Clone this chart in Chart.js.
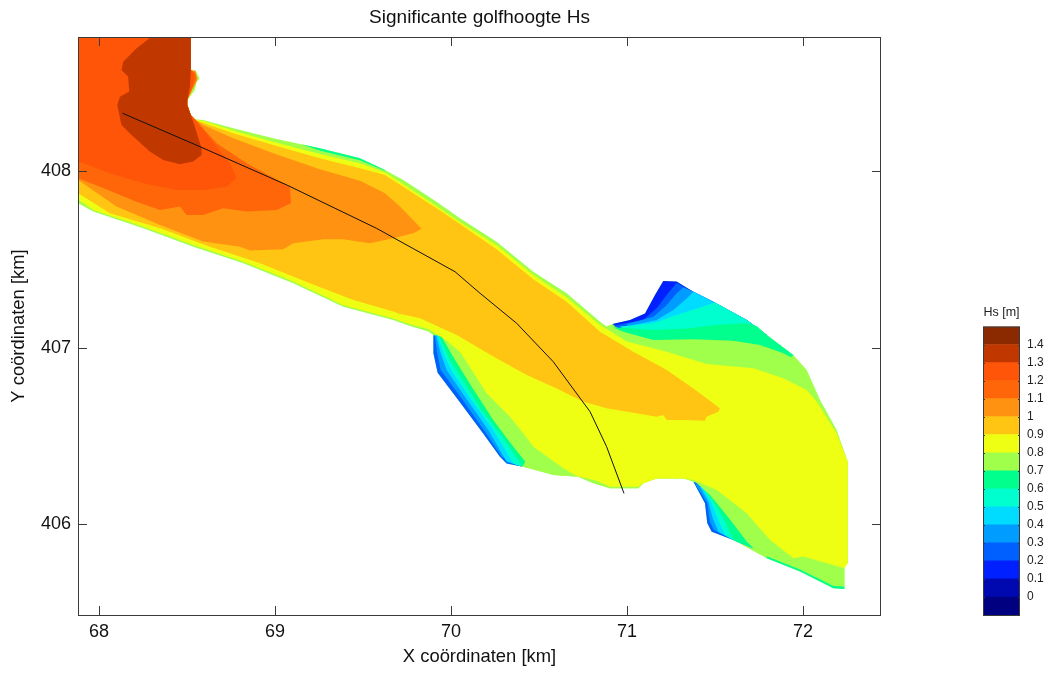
<!DOCTYPE html>
<html>
<head>
<meta charset="utf-8">
<title>Significante golfhoogte Hs</title>
<script src="https://cdn.jsdelivr.net/npm/chart.js@4"></script>
<style>
  html, body { margin: 0; padding: 0; background: #fff; overflow: hidden; }
  #hoofd { position: absolute; left: 0; top: 0; }
  #schaal { position: absolute; left: 960px; top: 295px; }
</style>
</head>
<body>
<canvas id="hoofd" width="1053" height="673"></canvas>
<canvas id="schaal" width="93" height="335"></canvas>
<script>
/* =====================================
   DATA (km)
===================================== */
const xTicks = [68, 69, 70, 71, 72];
const yTicks = [406, 407, 408];
const colorTicks = [0, 0.1, 0.2, 0.3, 0.4, 0.5, 0.6, 0.7, 0.8, 0.9, 1, 1.1, 1.2, 1.3, 1.4];
const colorLower = [-0.1, 0, 0.1, 0.2, 0.3, 0.4, 0.5, 0.6, 0.7, 0.8, 0.9, 1, 1.1, 1.2, 1.3, 1.4];
const colorUpper = [0, 0.1, 0.2, 0.3, 0.4, 0.5, 0.6, 0.7, 0.8, 0.9, 1, 1.1, 1.2, 1.3, 1.4, 1.5];
const palette = ["#000080", "#0008B0", "#0020FF", "#0060FF", "#009CFF", "#00DCFF", "#00FFCE", "#00FF8C",
                 "#A0FF4A", "#EEFF14", "#FFC512", "#FF9210", "#FF660A", "#FF5508", "#C03800", "#8B2A00"];

const domainOutline = [[67.8,408.85],[68.522,408.85],[68.522,408.575],[68.548,408.572],[68.572,408.528],[68.555,408.509],[68.545,408.462],[68.502,408.405],[68.502,408.377],[68.522,408.32],[68.545,408.296],[68.592,408.292],[68.763,408.245],[68.99,408.188],[69.255,408.132],[69.483,408.075],[69.625,408.009],[69.729,407.952],[69.918,407.829],[70.051,407.735],[70.259,407.602],[70.468,407.432],[70.657,407.31],[70.847,407.149],[70.884,407.121],[70.917,407.136],[71.017,407.159],[71.102,407.196],[71.159,407.3],[71.206,407.379],[71.282,407.376],[71.377,407.319],[71.49,407.262],[71.68,407.159],[71.794,407.074],[71.945,406.96],[72.021,406.875],[72.097,406.705],[72.191,406.535],[72.254,406.356],[72.254,405.78],[72.235,405.78],[72.235,405.634],[72.173,405.638],[71.983,405.733],[71.794,405.808],[71.604,405.912],[71.481,405.959],[71.456,406.007],[71.443,406.12],[71.377,406.242],[71.32,406.261],[71.168,406.261],[71.093,406.233],[71.064,406.205],[70.903,406.205],[70.809,406.233],[70.723,406.271],[70.581,406.28],[70.401,406.328],[70.316,406.346],[70.278,406.384],[70.183,406.516],[70.041,406.705],[69.924,406.86],[69.9,406.97],[69.9,407.074],[69.871,407.093],[69.767,407.125],[69.672,407.159],[69.388,407.234],[69.104,407.367],[68.82,407.48],[68.536,407.574],[68.252,407.678],[67.968,407.773],[67.882,407.82],[67.8,407.84]];

// dunne groene randen langs de geul
const topFringe = [[69.15,408.155],[69.255,408.132],[69.483,408.075],[69.625,408.009],[69.625,408.003],[69.483,408.062],[69.255,408.118]];
const seFringe = [[71.794,405.808],[71.983,405.733],[72.173,405.638],[72.235,405.634],[72.235,405.648],[72.173,405.652],[71.983,405.745],[71.794,405.82]];

// noordoost lob, from low to high
const neLevel2 = [[70.917,407.136],[71.017,407.159],[71.102,407.196],[71.159,407.3],[71.206,407.379],[71.282,407.376],[71.377,407.319],[71.49,407.262],[71.68,407.159],[71.794,407.074],[71.415,407.007],[71.036,407.064]];
const neLevel3 = [[70.922,407.128],[71.093,407.159],[71.168,407.225],[71.226,407.3],[71.282,407.37],[71.377,407.319],[71.49,407.262],[71.68,407.159],[71.794,407.074],[71.415,407.007],[71.036,407.064]];
const neLevel4 = [[70.998,407.136],[71.15,407.177],[71.226,407.243],[71.282,407.31],[71.32,407.342],[71.377,407.319],[71.49,407.262],[71.68,407.159],[71.794,407.074],[71.415,407.007],[71.036,407.064]];
const neLevel5 = [[71.036,407.13],[71.168,407.159],[71.263,407.215],[71.339,407.281],[71.377,407.319],[71.49,407.262],[71.68,407.159],[71.794,407.074],[71.415,407.007],[71.036,407.064]];
const neLevel6 = [[70.96,407.121],[71.15,407.14],[71.282,407.187],[71.415,407.23],[71.5,407.257],[71.68,407.159],[71.794,407.074],[71.415,407.007],[71.036,407.064]];
const neLevel7 = [[70.922,407.117],[71.15,407.102],[71.339,407.111],[71.51,407.13],[71.68,407.14],[71.737,407.125],[71.794,407.074],[71.945,406.96],[71.888,406.9],[71.415,407.007],[71.036,407.064]];

// zuidwest lob
const swLevel3 = [[69.9,407.074],[69.9,406.97],[69.924,406.86],[70.041,406.705],[70.183,406.516],[70.278,406.384],[70.316,406.346],[70.401,406.328],[70.468,406.441],[70.278,406.781],[70.051,407.007]];
const swLevel4 = [[69.907,407.074],[69.922,406.97],[69.941,406.875],[70.06,406.715],[70.193,406.526],[70.288,406.384],[70.401,406.328],[70.468,406.441],[70.278,406.781],[70.051,407.007]];
const swLevel5 = [[69.915,407.074],[69.941,406.97],[69.975,406.875],[70.079,406.724],[70.212,406.535],[70.316,406.356],[70.401,406.328],[70.468,406.441],[70.278,406.781],[70.051,407.007]];
const swLevel6 = [[69.922,407.074],[69.96,406.96],[70.013,406.856],[70.117,406.705],[70.24,406.535],[70.354,406.346],[70.401,406.328],[70.468,406.441],[70.278,406.781],[70.051,407.007]];
const swLevel7 = [[69.93,407.074],[69.99,406.941],[70.06,406.828],[70.165,406.658],[70.297,406.488],[70.407,406.328],[70.468,406.441],[70.278,406.781],[70.051,407.007]];

// zuidoost lob
const seLevel3 = [[71.377,406.242],[71.443,406.12],[71.456,406.007],[71.481,405.959],[71.604,405.912],[71.718,405.865],[71.68,406.063],[71.51,406.195]];
const seLevel4 = [[71.386,406.233],[71.456,406.12],[71.471,406.016],[71.494,405.969],[71.604,405.912],[71.718,405.865],[71.68,406.063],[71.51,406.195]];
const seLevel5 = [[71.415,406.214],[71.462,406.129],[71.487,406.035],[71.519,405.959],[71.604,405.912],[71.718,405.865],[71.68,406.063],[71.51,406.195]];
const seLevel6 = [[71.424,406.214],[71.481,406.12],[71.51,406.044],[71.557,405.94],[71.604,405.912],[71.718,405.865],[71.68,406.063],[71.51,406.195]];
const seLevel7 = [[71.443,406.195],[71.51,406.101],[71.557,406.016],[71.604,405.912],[71.718,405.865],[71.68,406.063],[71.51,406.195]];

// gebieden Hs boven een niveau
const above07 = [[67.8,408.85],[68.522,408.85],[68.522,408.575],[68.545,408.56],[68.565,408.525],[68.545,408.5],[68.535,408.462],[68.502,408.405],[68.502,408.377],[68.522,408.32],[68.545,408.296],[68.592,408.285],[68.763,408.239],[68.99,408.179],[69.255,408.118],[69.483,408.062],[69.625,408.003],[69.729,407.943],[69.918,407.82],[70.051,407.726],[70.259,407.593],[70.468,407.423],[70.657,407.3],[70.847,407.14],[70.894,407.115],[71.15,407.045],[71.377,407.049],[71.604,407.041],[71.756,407.017],[71.888,406.97],[71.964,406.932],[72.021,406.837],[72.097,406.696],[72.191,406.526],[72.254,406.356],[72.254,405.78],[72.235,405.78],[72.235,405.648],[72.173,405.657],[71.983,405.751],[71.794,405.837],[71.718,405.865],[71.68,405.903],[71.623,405.978],[71.557,406.063],[71.471,406.167],[71.377,406.252],[71.32,406.261],[71.168,406.261],[71.093,406.233],[71.064,406.205],[70.903,406.205],[70.809,406.233],[70.723,406.271],[70.581,406.28],[70.449,406.323],[70.354,406.441],[70.24,406.592],[70.117,406.781],[70.023,406.932],[69.947,407.064],[69.909,407.079],[69.871,407.102],[69.767,407.13],[69.672,407.163],[69.388,407.238],[69.104,407.371],[68.82,407.484],[68.536,407.578],[68.252,407.682],[67.968,407.777],[67.882,407.826],[67.8,407.85]];
const above08 = [[67.8,408.85],[68.522,408.85],[68.522,408.575],[68.55,408.55],[68.545,408.5],[68.53,408.462],[68.502,408.405],[68.502,408.377],[68.522,408.32],[68.545,408.292],[68.592,408.288],[68.763,408.232],[68.99,408.169],[69.255,408.099],[69.483,408.046],[69.625,407.994],[69.729,407.929],[69.918,407.805],[70.051,407.714],[70.259,407.583],[70.468,407.413],[70.657,407.287],[70.847,407.13],[70.894,407.102],[70.998,407.036],[71.226,406.979],[71.452,406.909],[71.718,406.885],[71.888,406.828],[72.021,406.762],[72.078,406.696],[72.191,406.517],[72.254,406.356],[72.254,405.78],[72.235,405.752],[72.002,405.818],[71.945,405.808],[71.813,405.912],[71.728,406.007],[71.68,406.063],[71.51,406.195],[71.377,406.252],[71.32,406.261],[71.168,406.261],[71.093,406.233],[71.064,406.214],[70.903,406.214],[70.828,406.248],[70.714,406.275],[70.638,406.318],[70.468,406.441],[70.411,406.516],[70.335,406.611],[70.202,406.743],[70.051,406.979],[69.956,407.055],[69.909,407.083],[69.871,407.107],[69.767,407.135],[69.672,407.167],[69.388,407.242],[69.104,407.376],[68.82,407.489],[68.536,407.583],[68.252,407.687],[67.968,407.782],[67.882,407.84],[67.8,407.86]];
const above09 = [[67.8,408.85],[68.522,408.85],[68.522,408.575],[68.55,408.55],[68.54,408.5],[68.502,408.405],[68.502,408.377],[68.522,408.32],[68.545,408.292],[68.763,408.217],[68.99,408.15],[69.255,408.075],[69.483,408.018],[69.625,407.98],[69.729,407.914],[69.918,407.792],[70.051,407.703],[70.259,407.559],[70.468,407.389],[70.657,407.262],[70.847,407.092],[71.036,406.979],[71.226,406.875],[71.377,406.771],[71.528,406.658],[71.519,406.639],[71.452,406.611],[71.443,406.588],[71.32,406.592],[71.226,406.592],[71.206,406.62],[71.168,406.611],[71.036,406.633],[70.884,406.658],[70.752,406.696],[70.6,406.771],[70.43,406.847],[70.24,406.951],[70.032,407.074],[69.824,407.168],[69.767,407.181],[69.71,407.192],[69.672,407.206],[69.445,407.272],[69.198,407.367],[68.915,407.48],[68.63,407.574],[68.347,407.678],[68.062,407.763],[67.882,407.876],[67.8,407.9]];
const above10 = [[67.8,408.85],[68.522,408.85],[68.522,408.575],[68.55,408.57],[68.56,408.52],[68.54,408.48],[68.502,408.405],[68.502,408.377],[68.522,408.32],[68.545,408.296],[68.592,408.264],[68.763,408.188],[68.99,408.103],[69.255,408.013],[69.483,407.948],[69.625,407.877],[69.71,407.801],[69.833,407.675],[69.786,407.65],[69.672,407.622],[69.539,407.593],[69.388,407.616],[69.274,407.616],[69.104,407.593],[69.047,407.559],[68.858,407.552],[68.801,407.574],[68.592,407.603],[68.422,407.669],[68.347,407.697],[68.1,407.801],[67.882,407.952],[67.8,407.97]];
const above11 = [[67.8,408.85],[68.522,408.85],[68.522,408.575],[68.545,408.56],[68.555,408.53],[68.535,408.48],[68.502,408.405],[68.502,408.377],[68.522,408.32],[68.545,408.296],[68.668,408.16],[68.839,408.046],[69.085,407.914],[69.091,407.82],[69.009,407.782],[68.839,407.773],[68.706,407.792],[68.592,407.754],[68.498,407.754],[68.46,407.801],[68.347,407.782],[68.214,407.829],[68.006,407.914],[67.882,407.961],[67.8,407.98]];
const above12 = [[67.8,408.85],[68.522,408.85],[68.522,408.575],[68.545,408.545],[68.535,408.5],[68.502,408.405],[68.502,408.377],[68.522,408.32],[68.545,408.296],[68.744,408.046],[68.782,407.962],[68.725,407.914],[68.592,407.895],[68.441,407.895],[68.252,407.933],[68.062,407.99],[67.911,408.046],[67.882,408.056],[67.8,408.06]];
const above13 = [[68.31,408.85],[68.522,408.85],[68.522,408.575],[68.517,408.481],[68.502,408.405],[68.502,408.377],[68.522,408.32],[68.545,408.254],[68.583,408.132],[68.583,408.094],[68.536,408.056],[68.46,408.041],[68.365,408.065],[68.289,408.113],[68.185,408.207],[68.128,408.263],[68.104,408.377],[68.119,408.424],[68.172,408.453],[68.166,408.538],[68.128,408.575],[68.138,408.622],[68.214,408.698],[68.299,408.764]];

// raai
const raaiX = [68.134, 68.573, 69.066, 69.577, 70.023, 70.165, 70.373, 70.581, 70.79, 70.884, 70.983];
const raaiY = [408.33, 408.141, 407.924, 407.678, 407.432, 407.31, 407.14, 406.922, 406.639, 406.441, 406.176];

/* =====================================
   DATASETS
===================================== */
// drawn back to front, each one paints over the previous
const lagen = [
    [domainOutline, 8], [topFringe, 7], [seFringe, 7],
    [neLevel2, 2], [neLevel3, 3], [neLevel4, 4], [neLevel5, 5], [neLevel6, 6], [neLevel7, 7],
    [swLevel3, 3], [swLevel4, 4], [swLevel5, 5], [swLevel6, 6], [swLevel7, 7],
    [seLevel3, 3], [seLevel4, 4], [seLevel5, 5], [seLevel6, 6], [seLevel7, 7],
    [above07, 8], [above08, 9], [above09, 10], [above10, 11], [above11, 12], [above12, 13], [above13, 14]
];

const datasets = lagen.map(function(laag, i) {
    return {
        data: laag[0].map(p => ({ x: p[0], y: p[1] })),
        showLine: true,
        fill: "shape",
        backgroundColor: palette[laag[1]],
        borderWidth: 0,
        pointRadius: 0,
        order: lagen.length - i + 1
    };
});

datasets.push({
    data: raaiX.map((x, i) => ({ x: x, y: raaiY[i] })),
    showLine: true,
    fill: false,
    borderColor: "#111",
    borderWidth: 1,
    pointRadius: 0,
    order: 0
});

/* =====================================
   INWARD TICKS AND BOX
===================================== */
const kaderPlugin = {
    id: "kader",
    afterDatasetsDraw(chart, args, opts) {
        const { ctx, chartArea: a, scales } = chart;
        const lengte = opts.lengte;
        ctx.save();
        ctx.strokeStyle = "#3a3a3a";
        ctx.lineWidth = 1;
        ctx.beginPath();
        if (scales.x.options.display) {
            scales.x.ticks.forEach(t => {
                const px = Math.round(scales.x.getPixelForValue(t.value)) + 0.5;
                ctx.moveTo(px, a.bottom); ctx.lineTo(px, a.bottom - lengte);
                ctx.moveTo(px, a.top); ctx.lineTo(px, a.top + lengte);
            });
        }
        scales.y.ticks.forEach(t => {
            const py = Math.round(scales.y.getPixelForValue(t.value)) + 0.5;
            ctx.moveTo(a.left, py); ctx.lineTo(a.left + lengte, py);
            ctx.moveTo(a.right, py); ctx.lineTo(a.right - lengte, py);
        });
        ctx.stroke();
        ctx.strokeRect(a.left + 0.5, a.top + 0.5, a.right - a.left - 1, a.bottom - a.top);
        ctx.restore();
    }
};

/* =====================================
   MAIN CHART
===================================== */
const lettertype = "'Liberation Sans', Arial, sans-serif";

new Chart(document.getElementById("hoofd"), {
    type: "scatter",
    data: { datasets: datasets },
    plugins: [kaderPlugin],
    options: {
        responsive: false,
        animation: false,
        layout: { padding: { right: 172 } },
        plugins: {
            legend: { display: false },
            tooltip: { enabled: false },
            title: {
                display: true,
                fullSize: false,
                text: "Significante golfhoogte Hs",
                color: "#111",
                font: { family: lettertype, size: 19, weight: "normal" },
                padding: { top: 6, bottom: 8.2 }
            },
            kader: { lengte: 9 }
        },
        scales: {
            x: {
                type: "linear",
                min: 67.881,
                max: 72.443,
                grid: { display: false, drawTicks: false, tickLength: 0 },
                border: { display: false },
                afterBuildTicks: s => { s.ticks = xTicks.map(v => ({ value: v })); },
                afterFit: s => { s.height = 58; },
                ticks: { color: "#111", padding: 6, maxRotation: 0, font: { family: lettertype, size: 18 }, callback: v => String(v) },
                title: { display: true, text: "X coördinaten [km]", color: "#111", padding: { top: 0, bottom: 5 }, font: { family: lettertype, size: 18.4 } }
            },
            y: {
                type: "linear",
                min: 405.487,
                max: 408.762,
                grid: { display: false, drawTicks: false, tickLength: 0 },
                border: { display: false },
                afterBuildTicks: s => { s.ticks = yTicks.map(v => ({ value: v })); },
                afterFit: s => { s.width = 78; },
                ticks: { color: "#111", padding: 7, font: { family: lettertype, size: 18 }, callback: v => String(v) },
                title: { display: true, text: "Y coördinaten [km]", color: "#111", padding: { top: 8, bottom: 0 }, font: { family: lettertype, size: 18.4 } }
            }
        }
    }
});

/* =====================================
   COLOUR BAR
===================================== */
new Chart(document.getElementById("schaal"), {
    type: "bar",
    data: {
        labels: ["Hs"],
        datasets: palette.map((kleur, i) => ({
            data: [[colorLower[i], colorUpper[i]]],
            backgroundColor: kleur,
            borderWidth: 0,
            barPercentage: 1,
            categoryPercentage: 1
        }))
    },
    plugins: [kaderPlugin],
    options: {
        responsive: false,
        animation: false,
        layout: { padding: { left: 23, bottom: 15 } },
        plugins: {
            legend: { display: false },
            tooltip: { enabled: false },
            title: {
                display: true,
                fullSize: false,
                text: "Hs [m]",
                color: "#222",
                font: { family: lettertype, size: 12.5, weight: "normal" },
                padding: { top: 10, bottom: 6.5 }
            },
            kader: { lengte: 2 }
        },
        scales: {
            x: { display: false, stacked: true },
            y: {
                position: "right",
                min: -0.1,
                max: 1.5,
                stacked: false,
                grid: { display: false, drawTicks: false, tickLength: 0 },
                border: { display: false },
                afterBuildTicks: s => { s.ticks = colorTicks.map(v => ({ value: v })); },
                afterFit: s => { s.width = 33; },
                ticks: { color: "#222", padding: 7, autoSkip: false, font: { family: lettertype, size: 12 }, callback: v => String(v) }
            }
        }
    }
});
</script>
</body>
</html>
